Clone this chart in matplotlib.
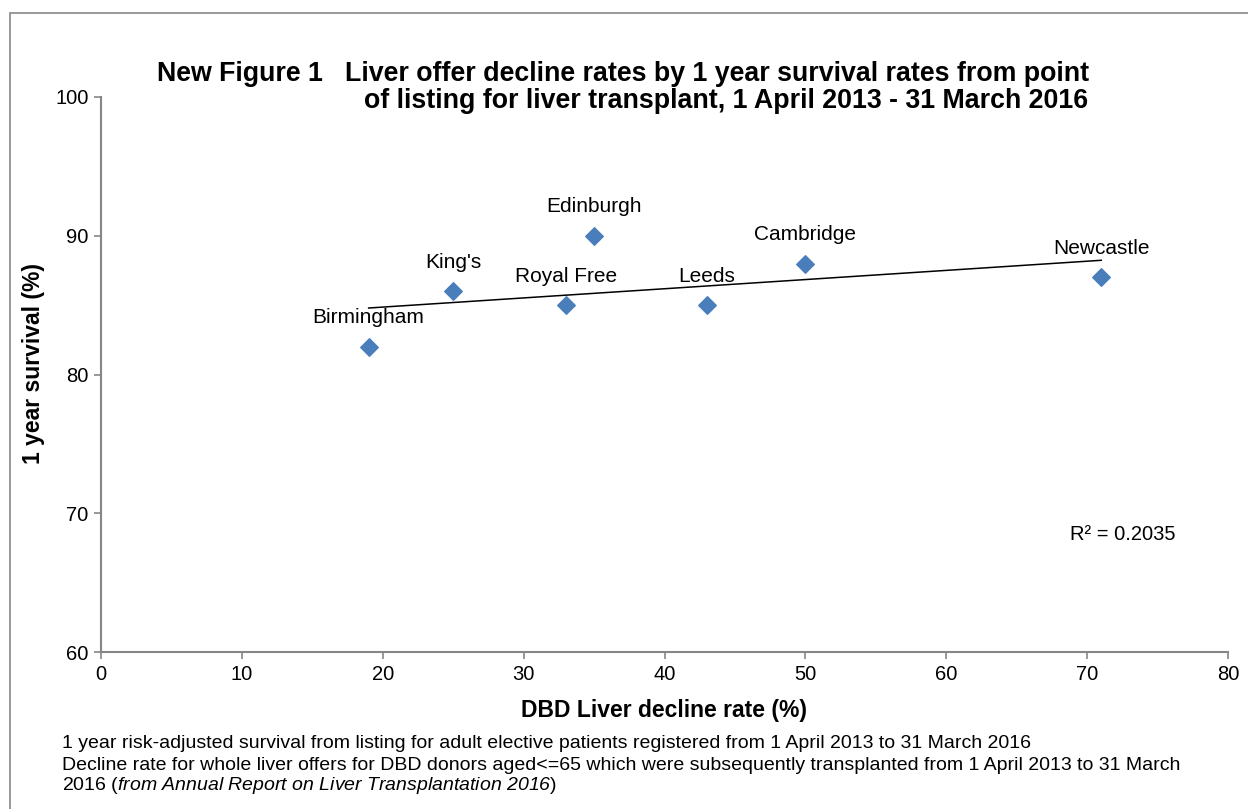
import numpy as np
import matplotlib
matplotlib.use("Agg")
import matplotlib.pyplot as plt
from matplotlib.patches import Rectangle

plt.rcParams['font.family'] = ['Liberation Sans', 'DejaVu Sans']
plt.rcParams['mathtext.fontset'] = 'custom'
plt.rcParams['mathtext.it'] = 'Liberation Sans:italic'
plt.rcParams['mathtext.rm'] = 'Liberation Sans:italic'

# Données
centres = ["Birmingham", "King's", "Royal Free", "Edinburgh", "Leeds", "Cambridge", "Newcastle"]
taux_refus = [19, 25, 33, 35, 43, 50, 71]
survie = [82, 86, 85, 90, 85, 88, 87]

x = np.array(taux_refus, dtype=float)
y = np.array(survie, dtype=float)
pente, origine = np.polyfit(x, y, 1)
r2 = np.corrcoef(x, y)[0, 1] ** 2

fig = plt.figure(figsize=(12.48, 8.09), dpi=100)
ax = fig.add_axes([101 / 1248, 1 - 652 / 809, (1228 - 101) / 1248, (652 - 97) / 809])

# cadre gris autour du graphique
fig.patches.append(Rectangle((10 / 1248, -0.01), 1.02, 1 - 13 / 809 + 0.01,
                             transform=fig.transFigure, fill=False,
                             edgecolor="#888888", linewidth=1.2))

ax.scatter(x, y, marker="D", s=80, color="#4A7EBB", edgecolors="#4A7EBB", zorder=3)
xs = np.array([x.min(), x.max()])
ax.plot(xs, pente * xs + origine, color="black", linewidth=1.1, zorder=2)

for nom, xi, yi in zip(centres, x, y):
    ax.annotate(nom, (xi, yi), xytext=(0, 14), textcoords="offset points",
                ha="center", va="bottom", fontsize=15)

ax.text(68.8, 68.5, f"R² = {r2:.4f}", fontsize=14.5, ha="left", va="center")

ax.set_xlim(0, 80)
ax.set_ylim(60, 100)
ax.set_xticks(range(0, 81, 10))
ax.set_yticks(range(60, 101, 10))
for s in ["top", "right"]:
    ax.spines[s].set_visible(False)
for s in ["left", "bottom"]:
    ax.spines[s].set_color("#868686")
    ax.spines[s].set_linewidth(1.5)
ax.tick_params(direction="out", length=5, width=1.2, color="#868686", labelsize=14.5, pad=4)

ax.set_xlabel("DBD Liver decline rate (%)", fontsize=16.5, fontweight="bold", va="center")
ax.set_ylabel("1 year survival (%)", fontsize=16.5, fontweight="bold", va="center")
ax.xaxis.set_label_coords(0.4996, -0.106)
ax.yaxis.set_label_coords(-0.060, 0.52)

fig.text(157 / 1248, 1 - 74 / 809, "New Figure 1   Liver offer decline rates by 1 year survival rates from point",
         fontsize=19.3, fontweight="bold", ha="left", va="center")
fig.text(1088 / 1248, 1 - 101 / 809, "of listing for liver transplant, 1 April 2013 - 31 March 2016",
         fontsize=19.3, fontweight="bold", ha="right", va="center")

fig.text(62 / 1248, 1 - 744 / 809,
         "1 year risk-adjusted survival from listing for adult elective patients registered from 1 April 2013 to 31 March 2016",
         fontsize=14, ha="left", va="center")
fig.text(62 / 1248, 1 - 765 / 809,
         "Decline rate for whole liver offers for DBD donors aged<=65 which were subsequently transplanted from 1 April 2013 to 31 March",
         fontsize=14, ha="left", va="center")
fig.text(62 / 1248, 1 - 786 / 809,
         "2016 ($\\it{from\\ Annual\\ Report\\ on\\ Liver\\ Transplantation\\ 2016}$)",
         fontsize=14, ha="left", va="center")

plt.savefig("out.png", dpi=100)
